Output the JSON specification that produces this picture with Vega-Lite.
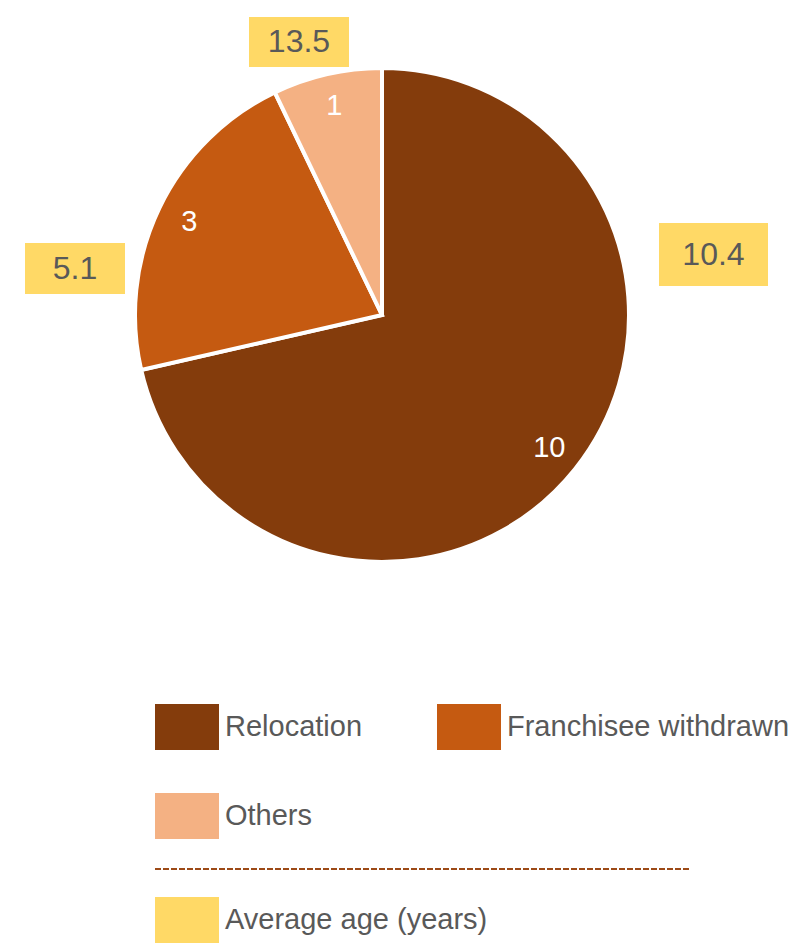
{
  "$schema": "https://vega.github.io/schema/vega-lite/v6.json",
  "width": 764,
  "height": 630,
  "padding": 0,
  "autosize": {"type": "pad"},
  "background": "white",
  "config": {"view": {"stroke": null}},
  "data": {
    "values": [
      {"reason": "Relocation", "count": 10, "avg_age": 10.4},
      {"reason": "Franchisee withdrawn", "count": 3, "avg_age": 5.1},
      {"reason": "Others", "count": 1, "avg_age": 13.5}
    ]
  },
  "layer": [
    {
      "mark": {"type": "arc", "outerRadius": 247, "stroke": "white", "strokeWidth": 4},
      "encoding": {
        "theta": {"field": "count", "type": "quantitative", "stack": true},
        "order": {"field": "count", "sort": "descending"},
        "color": {
          "field": "reason",
          "type": "nominal",
          "scale": {
            "domain": ["Relocation", "Franchisee withdrawn", "Others"],
            "range": ["#843C0C", "#C55A11", "#F4B183"]
          },
          "legend": {
            "orient": "none",
            "legendX": 155,
            "legendY": 695,
            "title": null,
            "direction": "horizontal",
            "columns": 2,
            "symbolType": "M-1,-0.71875H1V0.71875H-1Z",
            "symbolSize": 4096,
            "symbolStrokeWidth": 0,
            "symbolOpacity": 1,
            "labelFont": "Liberation Sans",
            "labelFontSize": 29,
            "labelColor": "#595959",
            "labelOffset": 6,
            "columnPadding": 74,
            "rowPadding": 34,
            "labelLimit": 400,
            "padding": 0
          }
        }
      }
    },
    {
      "mark": {"type": "text", "radius": 214, "fontSize": 29, "font": "Liberation Sans", "fill": "white"},
      "encoding": {
        "theta": {"field": "count", "type": "quantitative", "stack": true},
        "order": {"field": "count", "sort": "descending"},
        "detail": {"field": "reason", "type": "nominal"},
        "text": {"field": "count", "type": "quantitative"}
      }
    },
    {
      "transform": [{"filter": "datum.reason === 'Others'"}],
      "layer": [
        {
          "mark": {"type": "rect"},
          "encoding": {
            "x": {"datum": 249, "type": "quantitative", "scale": {"domain": [0, 764], "nice": false, "zero": false}, "axis": null},
            "x2": {"datum": 349},
            "y": {"datum": 17, "type": "quantitative", "scale": {"domain": [0, 630], "nice": false, "zero": false, "reverse": true}, "axis": null},
            "y2": {"datum": 67},
            "fill": {
              "datum": "Average age (years)",
              "type": "nominal",
              "scale": {"range": ["#FFD966"]},
              "legend": {
                "orient": "none",
                "legendX": 155,
                "legendY": 888,
                "title": null,
                "symbolType": "M-1,-0.71875H1V0.71875H-1Z",
                "symbolSize": 4096,
                "symbolStrokeWidth": 0,
                "symbolOpacity": 1,
                "labelFont": "Liberation Sans",
                "labelFontSize": 29,
                "labelColor": "#595959",
                "labelOffset": 6,
                "labelLimit": 400,
                "padding": 0
              }
            }
          }
        },
        {
          "mark": {"type": "text", "fontSize": 32, "font": "Liberation Sans", "fill": "#595959"},
          "encoding": {
            "x": {"datum": 299, "type": "quantitative", "scale": {"domain": [0, 764], "nice": false, "zero": false}, "axis": null},
            "y": {"datum": 42, "type": "quantitative", "scale": {"domain": [0, 630], "nice": false, "zero": false, "reverse": true}, "axis": null},
            "text": {"field": "avg_age", "type": "quantitative", "format": ".1f"}
          }
        }
      ]
    },
    {
      "transform": [{"filter": "datum.reason === 'Franchisee withdrawn'"}],
      "layer": [
        {
          "mark": {"type": "rect"},
          "encoding": {
            "x": {"datum": 25, "type": "quantitative", "scale": {"domain": [0, 764], "nice": false, "zero": false}, "axis": null},
            "x2": {"datum": 125},
            "y": {"datum": 243, "type": "quantitative", "scale": {"domain": [0, 630], "nice": false, "zero": false, "reverse": true}, "axis": null},
            "y2": {"datum": 294},
            "fill": {"datum": "Average age (years)", "type": "nominal"}
          }
        },
        {
          "mark": {"type": "text", "fontSize": 32, "font": "Liberation Sans", "fill": "#595959"},
          "encoding": {
            "x": {"datum": 75, "type": "quantitative", "scale": {"domain": [0, 764], "nice": false, "zero": false}, "axis": null},
            "y": {"datum": 268.5, "type": "quantitative", "scale": {"domain": [0, 630], "nice": false, "zero": false, "reverse": true}, "axis": null},
            "text": {"field": "avg_age", "type": "quantitative", "format": ".1f"}
          }
        }
      ]
    },
    {
      "transform": [{"filter": "datum.reason === 'Relocation'"}],
      "layer": [
        {
          "mark": {"type": "rect"},
          "encoding": {
            "x": {"datum": 659, "type": "quantitative", "scale": {"domain": [0, 764], "nice": false, "zero": false}, "axis": null},
            "x2": {"datum": 768},
            "y": {"datum": 223, "type": "quantitative", "scale": {"domain": [0, 630], "nice": false, "zero": false, "reverse": true}, "axis": null},
            "y2": {"datum": 286},
            "fill": {"datum": "Average age (years)", "type": "nominal"}
          }
        },
        {
          "mark": {"type": "text", "fontSize": 32, "font": "Liberation Sans", "fill": "#595959"},
          "encoding": {
            "x": {"datum": 713.5, "type": "quantitative", "scale": {"domain": [0, 764], "nice": false, "zero": false}, "axis": null},
            "y": {"datum": 254.5, "type": "quantitative", "scale": {"domain": [0, 630], "nice": false, "zero": false, "reverse": true}, "axis": null},
            "text": {"field": "avg_age", "type": "quantitative", "format": ".1f"}
          }
        },
        {
          "mark": {"type": "rule", "stroke": "#9C4A17", "strokeWidth": 2, "strokeDash": [6, 2]},
          "encoding": {
            "x": {"datum": 155, "type": "quantitative", "scale": {"domain": [0, 764], "nice": false, "zero": false}, "axis": null},
            "x2": {"datum": 689},
            "y": {"datum": 869, "type": "quantitative", "scale": {"domain": [0, 630], "nice": false, "zero": false, "reverse": true}, "axis": null}
          }
        }
      ]
    }
  ]
}
